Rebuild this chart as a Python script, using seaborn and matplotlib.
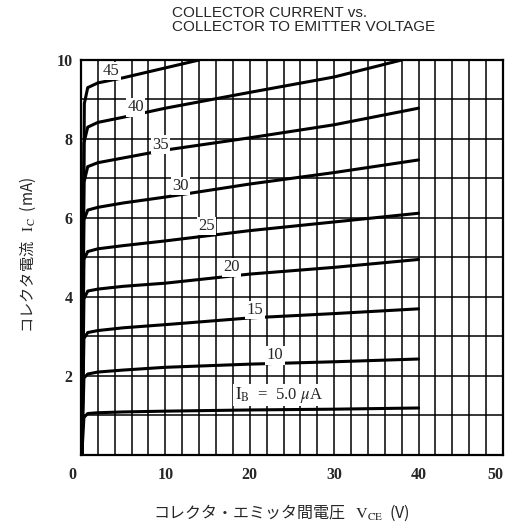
import numpy as np
import pandas as pd
import matplotlib
matplotlib.use("Agg")
import matplotlib.pyplot as plt
import matplotlib.transforms as mtransforms
import seaborn as sns

# Collector characteristic curves, IC (mA) vs VCE (V), one per base current IB (uA)
vce_common = [0.1, 0.35, 0.8, 2, 5, 10, 20, 30, 40]
ic_ib5 = [0, 0.95, 1.05, 1.07, 1.09, 1.11, 1.14, 1.16, 1.19]
ic_ib10 = [0, 1.95, 2.05, 2.10, 2.15, 2.22, 2.30, 2.36, 2.43]
ic_ib15 = [0, 2.95, 3.10, 3.15, 3.22, 3.30, 3.47, 3.58, 3.70]
ic_ib20 = [0, 3.95, 4.15, 4.20, 4.27, 4.35, 4.58, 4.75, 4.95]
ic_ib25 = [0, 4.95, 5.15, 5.22, 5.30, 5.42, 5.68, 5.90, 6.12]
ic_ib30 = [0, 5.95, 6.20, 6.27, 6.38, 6.53, 6.86, 7.15, 7.47]
ic_ib35 = [0, 6.90, 7.30, 7.40, 7.52, 7.72, 8.03, 8.36, 8.78]
vce_ib40 = [0.1, 0.35, 0.8, 2, 5, 10, 20, 30, 38]
ic_ib40 = [0, 7.90, 8.30, 8.42, 8.55, 8.78, 9.18, 9.57, 10.0]
vce_ib45 = [0.1, 0.4, 0.8, 2, 5, 10, 14]
ic_ib45 = [0, 8.90, 9.30, 9.42, 9.55, 9.80, 10.0]

base_currents = [5, 10, 15, 20, 25, 30, 35, 40, 45]
curve_labels = ["", "10", "15", "20", "25", "30", "35", "40", "45"]
label_vce = [None, 23.0, 20.6, 17.8, 14.9, 11.8, 9.4, 6.5, 3.55]
label_ic = [None, 2.52, 3.67, 4.75, 5.80, 6.81, 7.86, 8.80, 9.72]

x_ticks = [0, 10, 20, 30, 40, 50]
x_tick_labels = ["0", "10", "20", "30", "40", "50"]
y_ticks = [2, 4, 6, 8, 10]
y_tick_labels = ["2", "4", "6", "8", "10"]

curves = {
    5: (vce_common, ic_ib5),
    10: (vce_common, ic_ib10),
    15: (vce_common, ic_ib15),
    20: (vce_common, ic_ib20),
    25: (vce_common, ic_ib25),
    30: (vce_common, ic_ib30),
    35: (vce_common, ic_ib35),
    40: (vce_ib40, ic_ib40),
    45: (vce_ib45, ic_ib45),
}
rows = []
for ib in base_currents:
    v, i = curves[ib]
    for k, (vv, ii) in enumerate(zip(v, i)):
        rows.append({"IB": ib, "order": k, "VCE": vv, "IC": ii})
df = pd.DataFrame(rows)

sns.set_style("white")
plt.rcParams["font.family"] = ["Liberation Serif", "DejaVu Serif"]
plt.rcParams["mathtext.fontset"] = "stix"

fig = plt.figure(figsize=(5.08, 5.29), dpi=100)
ax = fig.add_axes([0.1594, 0.1399, 0.8307, 0.7467])

sns.lineplot(data=df, x="VCE", y="IC", hue="IB", units="IB", estimator=None,
             sort=False, palette=["black"] * len(base_currents), legend=False,
             linewidth=2.2, ax=ax, zorder=3)

# grid every 2 V and 1 mA
ax.set_xlim(0, 50)
ax.set_ylim(0, 10)
ax.set_xticks(x_ticks, labels=x_tick_labels, fontsize=11.5, fontweight="bold")
ax.set_xticks(np.arange(0, 51, 2), minor=True)
ax.set_yticks(y_ticks, labels=y_tick_labels, fontsize=11.5, fontweight="bold")
ax.set_yticks(np.arange(0, 11, 1), minor=True)
ax.grid(True, which="both", color="black", linewidth=1.1, zorder=1)
ax.set_axisbelow(True)
ax.tick_params(which="both", length=0)
ax.tick_params(axis="x", pad=9)
ax.tick_params(axis="y", pad=6)
xt = ax.get_xticklabels()
xt[0].set_horizontalalignment("right")
xt[0].set_transform(xt[0].get_transform() +
                    mtransforms.ScaledTranslation(-0.05, 0, fig.dpi_scale_trans))
xt[-1].set_horizontalalignment("right")
for sp in ax.spines.values():
    sp.set_linewidth(1.6)
    sp.set_color("black")

box = dict(boxstyle="square,pad=0.08", facecolor="white", edgecolor="none")
for lab, vx, iy in zip(curve_labels, label_vce, label_ic):
    if lab:
        ax.text(vx, iy, lab, ha="center", va="center", fontsize=12,
                bbox=box, zorder=4)
ax.text(18.2, 1.52, r"$\mathrm{I_B}$  =  5.0 $\mu$A", ha="left", va="center",
        fontsize=12, bbox=box, zorder=4)

ax.set_xlabel("")
ax.set_ylabel("")
cjk = ["Noto Sans CJK JP", "DejaVu Sans"]
fig.text(0.055, 0.518, r"コレクタ電流   $\mathrm{I_C}$  (mA)", rotation=90,
         ha="center", va="center", fontsize=11, family=cjk)
fig.text(0.555, 0.030, r"コレクタ・エミッタ間電圧   $\mathrm{V_{CE}}$  (V)",
         ha="center", va="center", fontsize=11.5, family=cjk)

fig.text(0.339, 0.988, "COLLECTOR CURRENT vs.\nCOLLECTOR TO EMITTER VOLTAGE",
         ha="left", va="top", fontsize=11, family=["Liberation Sans"],
         linespacing=1.0)

fig.savefig("out.png", dpi=100, facecolor="white")
